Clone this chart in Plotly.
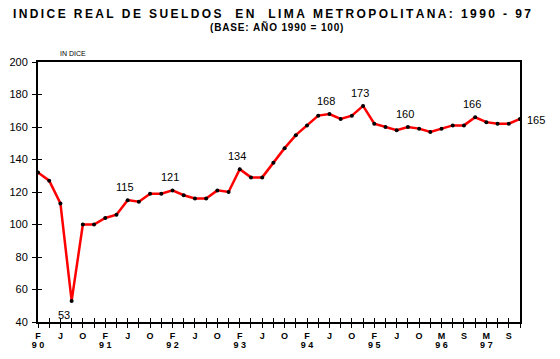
import plotly.graph_objects as go

# ---- data ----
values = [132, 127, 113, 53, 100, 100, 104, 106, 115, 114, 119, 119, 121, 118, 116,
          116, 121, 120, 134, 129, 129, 138, 147, 155, 161, 167, 168, 165, 167, 173,
          162, 160, 158, 160, 159, 157, 159, 161, 161, 166, 163, 162, 162, 165]
month_ticks = ["F", "J", "O", "F", "J", "O", "F", "J", "O", "F", "J", "O",
               "F", "J", "O", "F", "J", "O", "M", "S", "M", "S"]
year_ticks = ["9 0", "", "", "9 1", "", "", "9 2", "", "", "9 3", "", "",
              "9 4", "", "", "9 5", "", "", "9 6", "", "9 7", ""]
y_ticks = [40, 60, 80, 100, 120, 140, 160, 180, 200]
callout_idx = [3, 8, 12, 18, 26, 29, 33, 39, 43]
callout_text = ["53", "115", "121", "134", "168", "173", "160", "166", "165"]

# ---- build ----
x = list(range(len(values)))
tickvals = list(range(len(values)))
month_text = [""] * len(values)
for k, m in enumerate(month_ticks):
    month_text[2 * k] = m
year_vals = [2 * k for k, yv in enumerate(year_ticks) if yv]
year_text = [yv for yv in year_ticks if yv]

FONT = "Liberation Sans, Arial, sans-serif"

def spaced(s, sep="\u2009"):
    return sep.join(list(s))

fig = go.Figure()
fig.add_trace(go.Scatter(
    x=x, y=values, mode="lines+markers",
    line=dict(color="#ff0000", width=2.5),
    marker=dict(color="black", size=4),
    showlegend=False, hoverinfo="skip"))
# invisible traces on secondary axes (crossing tick marks, year row)
fig.add_trace(go.Scatter(x=[x[0], x[-1]], y=[y_ticks[0], y_ticks[-1]], xaxis="x2", yaxis="y2",
                         mode="markers", marker=dict(opacity=0), showlegend=False, hoverinfo="skip"))
fig.add_trace(go.Scatter(x=[x[0], x[-1]], y=[y_ticks[0], y_ticks[-1]], xaxis="x3", yaxis="y2",
                         mode="markers", marker=dict(opacity=0), showlegend=False, hoverinfo="skip"))

offsets = {"53": (-8, -14), "165": (16, -1)}
for i, t in zip(callout_idx, callout_text):
    dx, dy = offsets.get(t, (-3, 13))
    fig.add_annotation(x=x[i], y=values[i], text=t, showarrow=False,
                       xshift=dx, yshift=dy, font=dict(family=FONT, size=11, color="black"))

fig.add_annotation(xref="paper", yref="paper", x=0.5, y=1.0, yshift=48, xshift=-7,
                   yanchor="middle",
                   text="<b>" + spaced("INDICE REAL DE SUELDOS  EN  LIMA METROPOLITANA: 1990 - 97") + "</b>",
                   showarrow=False, font=dict(family=FONT, size=12, color="black"))
fig.add_annotation(xref="paper", yref="paper", x=0.5, y=1.0, yshift=35, xshift=-3,
                   yanchor="middle",
                   text="<b>" + spaced("(BASE: AÑO 1990 = 100)", "\u200a") + "</b>",
                   showarrow=False, font=dict(family=FONT, size=10, color="black"))
fig.add_annotation(xref="paper", yref="paper", x=0.0, y=1.0, yshift=9, xshift=20,
                   xanchor="left", yanchor="middle",
                   text="IN DICE", showarrow=False,
                   font=dict(family=FONT, size=7, color="black"))

fig.update_layout(
    width=552, height=351,
    margin=dict(l=30, r=40, t=54, b=37, autoexpand=False),
    paper_bgcolor="white", plot_bgcolor="white",
    xaxis=dict(range=[0, len(values) - 1], tickvals=tickvals, ticktext=month_text,
               ticks="outside", ticklen=4, tickcolor="black", tickwidth=1,
               showline=True, linecolor="black", linewidth=2, mirror=True,
               showgrid=False, zeroline=False, automargin=False,
               tickfont=dict(family=FONT, size=9, color="black", weight="bold")),
    yaxis=dict(range=[40, 200], tickvals=y_ticks,
               ticks="outside", ticklen=4, tickcolor="black", tickwidth=1,
               showline=True, linecolor="black", linewidth=2, mirror=True,
               showgrid=False, zeroline=False, automargin=False,
               ticklabelstandoff=2,
               tickfont=dict(family=FONT, size=11, color="black")),
    xaxis2=dict(overlaying="x", range=[0, len(values) - 1], tickvals=tickvals,
                ticks="inside", ticklen=4, tickcolor="black", tickwidth=1,
                showticklabels=False, showgrid=False, zeroline=False, showline=False,
                side="bottom", anchor="y2", automargin=False),
    xaxis3=dict(overlaying="x", range=[0, len(values) - 1], tickvals=year_vals,
                ticktext=year_text, ticks="outside", ticklen=14,
                tickcolor="rgba(0,0,0,0)", showgrid=False, zeroline=False,
                showline=False, side="bottom", anchor="y2", automargin=False,
                tickfont=dict(family=FONT, size=9, color="black", weight="bold")),
    yaxis2=dict(overlaying="y", range=[40, 200], tickvals=y_ticks,
                ticks="inside", ticklen=4, tickcolor="black", tickwidth=1,
                showticklabels=False, showgrid=False, zeroline=False, showline=False,
                side="left", anchor="x2", automargin=False),
)

fig.write_html("out.html")
